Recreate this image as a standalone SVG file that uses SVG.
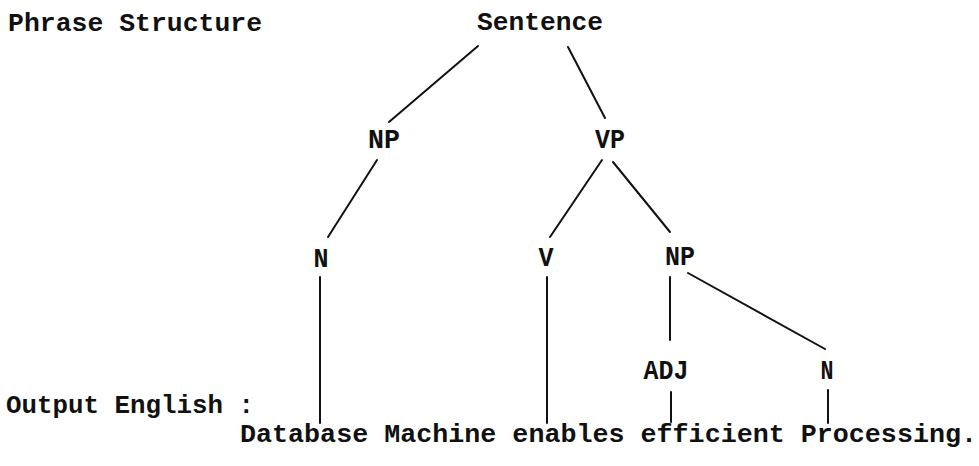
<svg xmlns="http://www.w3.org/2000/svg" width="979" height="466" viewBox="0 0 979 466">
<style>
text{font-family:"Liberation Mono","DejaVu Sans Mono",monospace;font-weight:bold;fill:#111;font-size:26px}
.lbl{text-anchor:middle;font-size:28px}
.edge{stroke:#111;stroke-width:2;fill:none;stroke-linecap:round}
</style>
<rect width="979" height="466" fill="#fff"/>
<g id="title"><text x="8" y="31" textLength="254" lengthAdjust="spacingAndGlyphs">Phrase Structure</text></g>
<g id="output-label"><text x="6" y="413" textLength="248" lengthAdjust="spacingAndGlyphs">Output English :</text></g>
<g id="connectors">
<line class="edge" x1="478" y1="46" x2="389" y2="122"/>
<line class="edge" x1="568" y1="47" x2="605" y2="118"/>
<line class="edge" x1="377" y1="160" x2="328" y2="237"/>
<line class="edge" x1="602" y1="160" x2="550" y2="237"/>
<line class="edge" x1="613" y1="162" x2="670" y2="232"/>
<line class="edge" x1="670" y1="277" x2="670" y2="340"/>
<line class="edge" x1="688" y1="273" x2="825" y2="349"/>
<line class="edge" x1="320" y1="277" x2="320" y2="423"/>
<line class="edge" x1="547" y1="277" x2="547" y2="423"/>
<line class="edge" x1="671" y1="392" x2="671" y2="422"/>
<line class="edge" x1="828" y1="390" x2="828" y2="423"/>
</g>
<g id="n-sentence"><text x="477" y="30" textLength="126" lengthAdjust="spacingAndGlyphs">Sentence</text></g>
<g id="n-np1"><text class="lbl" x="384" y="148" textLength="32" lengthAdjust="spacingAndGlyphs">NP</text></g>
<g id="n-vp"><text class="lbl" x="610" y="148" textLength="30" lengthAdjust="spacingAndGlyphs">VP</text></g>
<g id="n-n1"><text class="lbl" x="321" y="267" textLength="15" lengthAdjust="spacingAndGlyphs">N</text></g>
<g id="n-v"><text class="lbl" x="546" y="266" textLength="15" lengthAdjust="spacingAndGlyphs">V</text></g>
<g id="n-np2"><text class="lbl" x="680" y="265" textLength="30" lengthAdjust="spacingAndGlyphs">NP</text></g>
<g id="n-adj"><text class="lbl" x="666" y="379" textLength="45" lengthAdjust="spacingAndGlyphs">ADJ</text></g>
<g id="n-n2"><text class="lbl" x="827" y="379" textLength="13" lengthAdjust="spacingAndGlyphs">N</text></g>
<g id="sentence-output"><text x="240" y="442" textLength="737" lengthAdjust="spacingAndGlyphs">Database Machine enables efficient Processing.</text></g>
</svg>
